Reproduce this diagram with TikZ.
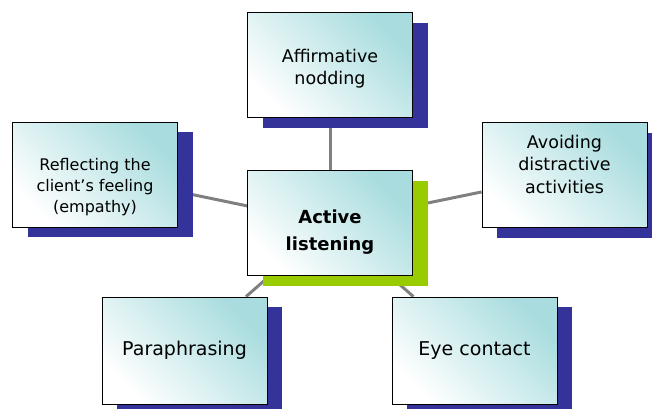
\documentclass[tikz,border=0pt]{standalone}
\usepackage{fontspec}
\setmainfont{DejaVu Sans}
\usetikzlibrary{positioning,shadows,backgrounds}
\definecolor{boxcyan}{RGB}{168,220,222}
\definecolor{shadowblue}{RGB}{51,51,153}
\definecolor{shadowgreen}{RGB}{153,204,0}
\definecolor{linkgray}{RGB}{128,128,128}

\begin{document}
\begin{tikzpicture}[x=1pt,y=-1pt,
    cardbase/.style={draw=black,line width=0.8pt,align=center,
      minimum width=165pt,minimum height=105pt,inner sep=0pt,
      top color=boxcyan,bottom color=white,shading angle=-45,
      font=\fontsize{17.5}{22.5}\selectfont},
    card/.style={cardbase,
      drop shadow={shadow xshift=15pt,shadow yshift=-10pt,fill=shadowblue,opacity=1}},
    hub/.style={cardbase,
      drop shadow={shadow xshift=15pt,shadow yshift=-10pt,fill=shadowgreen,opacity=1}},
    link/.style={linkgray,line width=3pt}]
    \useasboundingbox (0,0) rectangle (652,408);
    % struts push the text a little off the middle, as in the original
    \node[hub,font=\bfseries\fontsize{18}{27}\selectfont] (act) at (330,223) {\rule{0pt}{31pt}Active\\listening};
    \node[card] (nod) at (330,65) {\rule{0pt}{21pt}Affirmative\\nodding};
    \node[card,font=\fontsize{16}{21}\selectfont] (refl) at (95,174.5) {\rule{0pt}{38pt}Reflecting the\\client’s feeling\\(empathy)};
    \node[card] (avoid) at (564.5,175) {Avoiding\\distractive\\activities\rule[-22pt]{0pt}{0pt}};
    \node[card,minimum height=107pt,font=\fontsize{19}{23}\selectfont] (para) at (184.5,350.5) {Paraphrasing};
    \node[card,minimum height=107pt,font=\fontsize{19}{23}\selectfont] (eye) at (474.5,350.5) {Eye contact};
    \begin{pgfonlayer}{background}
      \draw [link] (act) -- (nod);
      \draw [link] (act) -- (refl);
      \draw [link] (act) -- (avoid);
      \draw [link] (act) -- (para);
      \draw [link] (act) -- (eye);
    \end{pgfonlayer}
\end{tikzpicture}
\end{document}
